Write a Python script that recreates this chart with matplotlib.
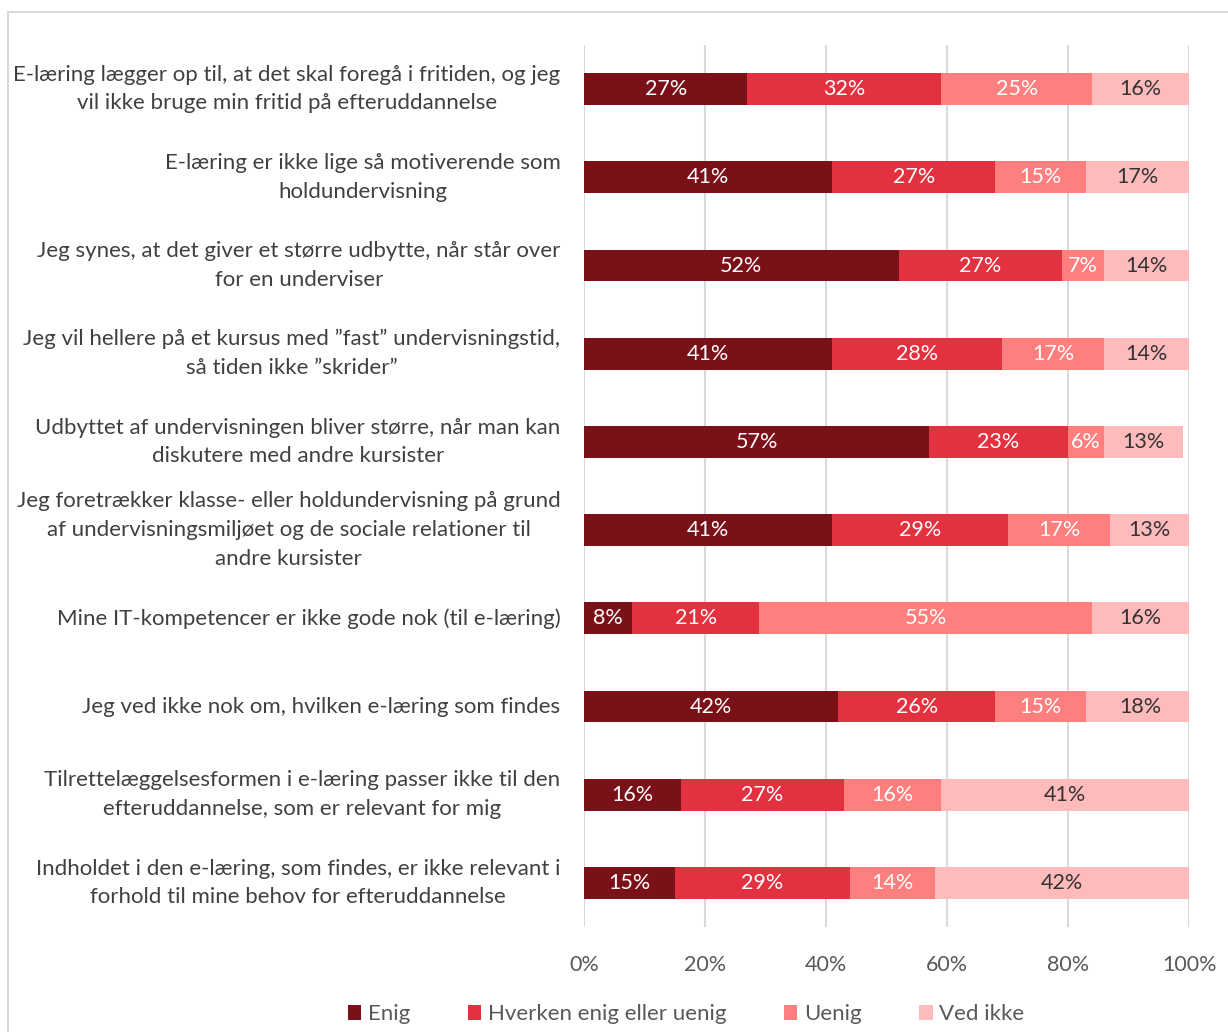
import matplotlib.pyplot as plt
import numpy as np

plt.rcParams['font.family'] = ['Lato', 'DejaVu Sans']

# Survey statements (top to bottom) and answer shares in percent
statements = [
    "E-læring lægger op til, at det skal foregå i fritiden, og jeg\nvil ikke bruge min fritid på efteruddannelse",
    "E-læring er ikke lige så motiverende som\nholdundervisning",
    "Jeg synes, at det giver et større udbytte, når står over\nfor en underviser",
    "Jeg vil hellere på et kursus med \u201dfast\u201d undervisningstid,\nså tiden ikke \u201dskrider\u201d",
    "Udbyttet af undervisningen bliver større, når man kan\ndiskutere med andre kursister",
    "Jeg foretrækker klasse- eller holdundervisning på grund\naf undervisningsmiljøet og de sociale relationer til\nandre kursister",
    "Mine IT-kompetencer er ikke gode nok (til e-læring)",
    "Jeg ved ikke nok om, hvilken e-læring som findes",
    "Tilrettelæggelsesformen i e-læring passer ikke til den\nefteruddannelse, som er relevant for mig",
    "Indholdet i den e-læring, som findes, er ikke relevant i\nforhold til mine behov for efteruddannelse",
]
enig = [27, 41, 52, 41, 57, 41, 8, 42, 16, 15]
hverken = [32, 27, 27, 28, 23, 29, 21, 26, 27, 29]
uenig = [25, 15, 7, 17, 6, 17, 55, 15, 16, 14]
ved_ikke = [16, 17, 14, 14, 13, 13, 16, 18, 41, 42]

series = [
    ("Enig", enig, "#7B1118", "white"),
    ("Hverken enig eller uenig", hverken, "#E3313F", "white"),
    ("Uenig", uenig, "#FF7F7F", "white"),
    ("Ved ikke", ved_ikke, "#FFBBBB", "#333333"),
]

fig = plt.figure(figsize=(12.28, 10.32), dpi=100)
ax = fig.add_axes([0.4756, 0.1017, 0.4927, 0.8547])

# light frame around the chart area
frame = plt.Rectangle((8 / 1228, -0.05), 1.2, (1032 - 12) / 1032 + 0.05,
                      transform=fig.transFigure, fill=False,
                      edgecolor="#D9D9D9", linewidth=1.5, clip_on=False)
fig.patches.append(frame)

y = np.arange(len(statements))
left = np.zeros(len(statements))
for name, vals, color, tcolor in series:
    vals = np.array(vals, dtype=float)
    ax.barh(y, vals, left=left, height=0.36, color=color, label=name, zorder=3)
    for yi, l, v in zip(y, left, vals):
        ax.text(l + v / 2, yi, f"{int(v)}%", ha="center", va="center",
                color=tcolor, fontsize=15.5, zorder=4)
    left += vals

ax.set_ylim(len(statements) - 0.5, -0.5)
ax.set_xlim(0, 100)
ax.set_xticks(np.arange(0, 101, 20))
ax.set_xticklabels([f"{t}%" for t in range(0, 101, 20)])
ax.set_yticks(y)
ax.set_yticklabels(statements, multialignment="center", linespacing=1.55,
                   va="center")
ax.tick_params(axis="y", length=0, pad=17, labelsize=16, labelcolor="#404040")
ax.tick_params(axis="x", length=0, pad=20, labelsize=15.5, labelcolor="#595959")
ax.grid(axis="x", color="#D9D9D9", linewidth=1.5, zorder=0)
for s in ax.spines.values():
    s.set_visible(False)

leg = fig.legend(loc="lower center", bbox_to_anchor=(0.5586, -0.012), ncol=4,
                 frameon=False, fontsize=16, handlelength=0.6,
                 handleheight=0.6, handletextpad=0.3, columnspacing=2.6)
for t in leg.get_texts():
    t.set_color("#595959")

fig.savefig("out.png", dpi=100)
